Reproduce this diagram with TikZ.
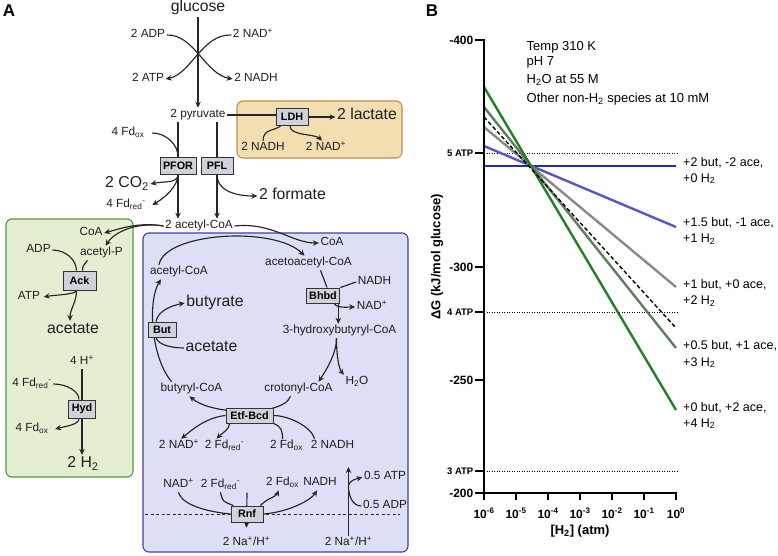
\documentclass[tikz,border=0pt]{standalone}
\usepackage{fontspec}
\setmainfont{Liberation Sans}
\usetikzlibrary{arrows.meta}
\pgfdeclarelayer{back}
\pgfdeclarelayer{mid}
\pgfsetlayers{back,mid,main}
\definecolor{txtc}{HTML}{1E1E1E}
\definecolor{enzfill}{HTML}{CFD2D8}
\definecolor{enzdraw}{HTML}{333333}
\definecolor{orfill}{HTML}{F3DEB2}
\definecolor{ordraw}{HTML}{C08E48}
\definecolor{grfill}{HTML}{E4EFD2}
\definecolor{grdraw}{HTML}{4F9A3F}
\definecolor{blfill}{HTML}{DCDFF6}
\definecolor{bldraw}{HTML}{3B3EB4}
\definecolor{lnc}{HTML}{262626}
\definecolor{cblueA}{RGB}{35,40,200}
\definecolor{cblueB}{RGB}{85,85,200}
\definecolor{cgray}{RGB}{138,138,138}
\definecolor{cgrgr}{RGB}{95,125,95}
\definecolor{cgreen}{RGB}{30,130,30}
\newcommand\Fdred{Fd\textsubscript{red}\textsuperscript{-}}
\newcommand\Fdox{Fd\textsubscript{ox}}
\newcommand\NADp{NAD\textsuperscript{+}}
\begin{document}
\begin{tikzpicture}[x=1pt,y=-1pt,
  every node/.style={inner sep=1.5pt},
  sm/.style={text=txtc,font=\fontsize{11.8}{14}\selectfont,text height=8.5pt,text depth=2.6pt},
  lg/.style={text=txtc,font=\fontsize{15.8}{18}\selectfont,text height=11.3pt,text depth=3.5pt},
  enz/.style={draw=enzdraw,line width=1pt,fill=enzfill,text=black,
     font=\bfseries\fontsize{10.8}{12}\selectfont,minimum width=32pt,minimum height=16pt,inner xsep=3pt,inner ysep=0pt},
  ln/.style={draw=lnc,line width=1.15pt},
  arr/.style={ln,-{Stealth[length=6pt,width=5.5pt]}},
  panel/.style={font=\bfseries\fontsize{17}{20}\selectfont},
  ax/.style={line width=2.4pt},
  tk/.style={font=\bfseries\fontsize{12}{14}\selectfont},
  tka/.style={font=\bfseries\fontsize{9.5}{11}\selectfont},
  cl/.style={font=\fontsize{13}{15}\selectfont,anchor=base west},
  cr/.style={font=\fontsize{12.5}{15}\selectfont,anchor=base west},
  ]
\useasboundingbox (0,0) rectangle (778,555);

% ---------- enclosing boxes ----------
\begin{pgfonlayer}{back}
\draw[fill=orfill,draw=ordraw,line width=1.1pt,rounded corners=6pt] (237,101) rectangle (402,158);
\draw[fill=grfill,draw=grdraw,line width=1.1pt,rounded corners=6pt] (6,219) rectangle (133,477);
\draw[fill=blfill,draw=bldraw,line width=1.1pt,rounded corners=6pt] (143,233) rectangle (408,552);
\end{pgfonlayer}

% ---------- panel A nodes ----------
\node[panel] (labA) at (9,11) {A};
\node[lg] (glc) at (198,8) {glucose};
\node[sm] (adp) at (148,35) {2 ADP};
\node[sm] (nadp1) at (253,35) {2 \NADp};
\node[sm] (atp1) at (148,79) {2 ATP};
\node[sm] (nadh1) at (256,79) {2 NADH};
\node[sm] (pyr) at (198,115) {2 pyruvate};
\node[enz,minimum height=17pt] (ldh) at (292,117) {LDH};
\node[lg] (lac) at (367,116) {2 lactate};
\node[sm] (nadh2) at (263,148) {2 NADH};
\node[sm] (nadp2) at (326,148) {2 \NADp};
\node[enz,minimum width=35pt,minimum height=17pt] (pfor) at (178,165.5) {PFOR};
\node[enz,minimum height=17pt] (pfl) at (217,165.5) {PFL};
\node[sm] (fdox1) at (128,133) {4 \Fdox};
\node[lg] (co2) at (127,184) {2 CO\textsubscript{2}};
\node[sm] (fdred1) at (126,205) {4 \Fdred};
\node[lg] (form) at (292.5,196) {2 formate};
\node[sm] (acoa) at (199,226) {2 acetyl-CoA};

% green box
\node[sm] (coa1) at (91,233) {CoA};
\node[sm] (acp) at (101.5,253) {acetyl-P};
\node[sm] (adp2) at (38.5,250) {ADP};
\node[enz,minimum width=33pt,minimum height=19pt] (ack) at (79.5,280.5) {Ack};
\node[sm] (atp2) at (29,297) {ATP};
\node[lg] (acet1) at (73,330) {acetate};
\node[sm] (hp) at (82,362) {4 H\textsuperscript{+}};
\node[sm] (fdred2) at (32,384) {4 \Fdred};
\node[enz,minimum width=27pt,minimum height=18pt] (hyd) at (82,409) {Hyd};
\node[sm] (fdox2) at (32,429) {4 \Fdox};
\node[lg] (h2) at (83,464) {2 H\textsubscript{2}};

% blue box
\node[sm] (coa2) at (332,243) {CoA};
\node[sm] (aacoa) at (308.5,263) {acetoacetyl-CoA};
\node[sm] (acoa2) at (179,272) {acetyl-CoA};
\node[enz,minimum height=15pt] (bhbd) at (323,295.5) {Bhbd};
\node[sm] (nadh3) at (374.5,282) {NADH};
\node[sm] (nadp3) at (372,307) {\NADp};
\node[sm] (hbcoa) at (339.5,331) {3-hydroxybutyryl-CoA};
\node[sm] (h2o) at (357,382) {H\textsubscript{2}O};
\node[sm] (crcoa) at (298.5,389) {crotonyl-CoA};
\node[sm] (bcoa) at (191.5,389) {butyryl-CoA};
\node[lg] (butr) at (215,303) {butyrate};
\node[enz,minimum width=28pt,minimum height=15pt] (but) at (162,329.5) {But};
\node[lg] (acet2) at (211.5,348) {acetate};
\node[enz,minimum width=47pt,minimum height=15pt] (etf) at (249.5,415.5) {Etf-Bcd};
\node[sm] (nadp4) at (179,446) {2 \NADp};
\node[sm] (fdred3) at (224.5,446) {2 \Fdred};
\node[sm] (fdox3) at (286.5,446) {2 \Fdox};
\node[sm] (nadh4) at (332.5,446) {2 NADH};
\node[sm] (nadp5) at (178.5,485) {\NADp};
\node[sm] (fdred4) at (220.5,485) {2 \Fdred};
\node[sm] (fdox4) at (282.5,483) {2 \Fdox};
\node[sm] (nadh5) at (320,483) {NADH};
\node[enz,minimum height=16pt] (rnf) at (247,514) {Rnf};
\node[sm] (na1) at (246.5,543) {2 Na\textsuperscript{+}/H\textsuperscript{+}};
\node[sm] (na2) at (348.5,543) {2 Na\textsuperscript{+}/H\textsuperscript{+}};
\node[sm] (atp3) at (385,477) {0.5 ATP};
\node[sm] (adp3) at (385,506) {0.5 ADP};
\coordinate (atpt) at (348.5,467);
\coordinate (aj) at (348.5,487);

% ---------- connectors ----------
\begin{pgfonlayer}{mid}
\draw[arr] (glc.south) -- (pyr.north);
\draw[arr] (adp.east) .. controls (194,34) and (205,74) .. (nadh1.west);
\draw[arr] (nadp1.west) .. controls (202,34) and (191,74) .. (atp1.east);
% LDH
\draw[ln] (pyr.east) -- (pyr.east -| ldh.west);
\draw[arr] (ldh.east) -- (ldh.east -| lac.west);
\draw[ln] (nadh2.north) .. controls +(0,-12) and +(-6,5) .. ([xshift=5pt]ldh.south west);
\draw[arr] ([xshift=-2pt]ldh.south) .. controls +(0,10) and +(-7,-7) .. ([xshift=-4pt]nadp2.north);
% PFOR / PFL
\draw[arr] (pyr.south -| pfor) -- (acoa.north -| pfor);
\draw[arr] (pyr.south -| pfl) -- (acoa.north -| pfl);
\draw[ln] ([xshift=6pt]fdox1.east) .. controls +(14,0) and +(0,-12) .. (pfor.north);
\draw[arr] (pfor.south) .. controls +(0,9) and +(14,-3) .. (co2.east);
\draw[arr] (pfor.south) .. controls +(0,12) and +(12,-7) .. ([xshift=5pt]fdred1.east);
\draw[arr] (pfl.south) .. controls +(0,18) and +(-18,0) .. (form.west);
% to green box
\draw[arr] (acoa.west) .. controls (140,222) and (122,228) .. (coa1.east);
\draw[arr] (acoa.west) .. controls (140,222) and (116,230) .. ([xshift=4pt]acp.north);
\draw[ln] (adp2.east) .. controls +(14,0) and +(0,-10) .. ([xshift=-3pt]ack.north);
\draw[ln] ([xshift=3pt]ack.north) .. controls +(0,-6) and +(-3,5) .. ([xshift=-14pt]acp.south);
\draw[arr] ([xshift=-3pt]ack.south) .. controls +(0,4) and +(10,-2) .. ([xshift=2pt]atp2.east);
\draw[arr] ([xshift=-3pt]ack.south) .. controls +(0,12) and +(0,-12) .. ([xshift=-3pt]acet1.north);
\draw[arr] (hp.south) -- (hp.south |- h2.north);
\draw[ln] (fdred2.east) .. controls +(14,0) and +(0,-8) .. ([xshift=-3pt]hyd.north);
\draw[arr] ([xshift=-3pt]hyd.south) .. controls +(0,6) and +(12,-3) .. ([xshift=5pt]fdox2.east);
% blue box
\draw[arr] (acoa.east) .. controls (272,222) and (292,243) .. (coa2.west);
\draw[arr] ([xshift=-20pt]acoa2.north) .. controls (165,232) and (275,226) .. ([xshift=-4pt]aacoa.north);
\draw[ln] ([xshift=12pt]aacoa.south) -- ([xshift=4pt]bhbd.north);
\draw[ln] (nadh3.west) -- (bhbd.north east);
\coordinate (bb) at ([xshift=-2pt]bhbd.south east);
\draw[arr] ([xshift=-6pt]bhbd.south east) .. controls +(2,5) and +(-6,0) .. (nadp3.west);
\draw[arr] (bb) -- (bb |- hbcoa.north);
\coordinate (hs) at ([xshift=-3pt]hbcoa.south);
\draw[arr] (hs) .. controls +(0,15) and +(8,-12) .. ([xshift=20pt]crcoa.north);
\draw[arr] (hs) .. controls +(0,18) and +(-5,-6) .. (h2o.north west);
\draw[arr] ([xshift=-8pt]crcoa.south) .. controls (284,416) and (213,416) .. ([xshift=-2pt]bcoa.south);
\draw[arr] ([xshift=-20pt]bcoa.north) .. controls (150,355) and (148,300) .. ([xshift=-18pt]acoa2.south);
\draw[arr] ([xshift=-6pt]but.north) .. controls +(2,-12) and +(-10,2) .. (butr.west);
\draw[ln] ([xshift=-6pt]but.south) .. controls +(2,8) and +(-10,0) .. (acet2.west);
\draw[arr] (etf.west) .. controls +(-20,2) and +(10,-8) .. ([xshift=2pt]nadp4.north);
\draw[arr] ([xshift=4pt]etf.south west) .. controls +(0,6) and +(6,-6) .. ([xshift=-8pt]fdred3.north);
\draw[ln] ([xshift=-4pt]fdox3.north) .. controls +(0,-8) and +(8,3) .. (etf.south east);
\draw[ln] ([xshift=-18pt]nadh4.north) .. controls +(-3,-12) and +(15,0) .. (etf.east);
% Rnf
\draw[draw=lnc,line width=0.8pt,dash pattern=on 3pt off 2.5pt] (145,514) -- (400,514);
\draw[ln] (nadp5.south) .. controls +(4,14) and +(-20,-2) .. (rnf.west);
\draw[ln] (fdred4.south) .. controls +(2,10) and +(-10,-4) .. ([xshift=3pt]rnf.north west);
\draw[arr] ([xshift=-3pt]rnf.north east) .. controls +(5,-6) and +(-2,6) .. ([xshift=-4pt]fdox4.south);
\draw[arr] (rnf.east) .. controls +(25,-2) and +(-6,10) .. ([xshift=-3pt]nadh5.south);
\draw[arr] ([yshift=13pt]rnf.north) -- ([yshift=8pt]na1.north);
\draw[arr] (na2.north) -- (atpt);
\draw[ln] (adp3.west) .. controls +(-10,0) and +(0,6) .. (aj);
\draw[arr] (aj) .. controls +(0,-7) and +(-6,2) .. (atp3.west);
\end{pgfonlayer}

% ---------- panel B ----------
\node[panel] (labB) at (432,11) {B};
% reference levels
\foreach \yy in {153,312,471}
  \draw[line width=1pt,dash pattern=on 1pt off 1.5pt] (484,\yy) -- (677,\yy);
% data lines
\draw[line width=2.4pt,cblueA] (484,166) -- (676,166);
\draw[line width=2.4pt,cblueB] (484,146) -- (676,227);
\draw[line width=2.4pt,cgray] (484,127) -- (676,287);
\draw[line width=2.4pt,cgrgr] (484,107) -- (676,348);
\draw[line width=2.4pt,cgreen] (484,87) -- (676,410);
\draw[line width=1.4pt,black,dash pattern=on 4pt off 2.5pt] (484,117) -- (676,328);
% axes
\draw[ax] (484,39) -- (484,493) -- (677.2,493);
\foreach \yy in {40,153,267,312,380,471,493}
  \draw[ax] (475,\yy) -- (484,\yy);
\foreach \i in {0,...,6}
  \draw[ax] ({484+32*\i},493) -- ({484+32*\i},500);
\node[tk,anchor=east] (y400) at (475,40) {-400};
\node[tka,anchor=east] (y5) at (475,153) {5 ATP};
\node[tk,anchor=east] (y300) at (475,267) {-300};
\node[tka,anchor=east] (y4) at (475,312) {4 ATP};
\node[tk,anchor=east] (y250) at (475,380) {-250};
\node[tka,anchor=east] (y3) at (475,471) {3 ATP};
\node[tk,anchor=east] (y200) at (475,493) {-200};
\foreach \i/\e in {0/-6,1/-5,2/-4,3/-3,4/-2,5/-1,6/0}
  \node[tk,anchor=base] (xl\i) at ({484+32*\i},518) {10\textsuperscript{\e}};
\node[font=\bfseries\fontsize{13}{15}\selectfont,anchor=base] (xt) at (580,534) {[H\textsubscript{2}] (atm)};
\node[font=\bfseries\fontsize{13}{15}\selectfont,rotate=90] (yt) at (437,257) {ΔG (kJ/mol glucose)};
% annotations
\node[cl] (n1) at (525,50) {Temp 310 K};
\node[cl] (n2) at (525,65.5) {pH 7};
\node[cl] (n3) at (525,83) {H\textsubscript{2}O at 55 M};
\node[cl] (n4) at (525,102) {Other non-H\textsubscript{2} species at 10 mM};
\node[cr] (r1a) at (681.5,166.5) {+2 but, -2 ace,};
\node[cr] (r1b) at (681.5,182) {+0 H\textsubscript{2}};
\node[cr] (r2a) at (681.5,226) {+1.5 but, -1 ace,};
\node[cr] (r2b) at (681.5,242.5) {+1 H\textsubscript{2}};
\node[cr] (r3a) at (681.5,288) {+1 but, +0 ace,};
\node[cr] (r3b) at (681.5,304.5) {+2 H\textsubscript{2}};
\node[cr] (r4a) at (681.5,349) {+0.5 but, +1 ace,};
\node[cr] (r4b) at (681.5,366) {+3 H\textsubscript{2}};
\node[cr] (r5a) at (681.5,411) {+0 but, +2 ace,};
\node[cr] (r5b) at (681.5,427) {+4 H\textsubscript{2}};
\end{tikzpicture}
\end{document}
